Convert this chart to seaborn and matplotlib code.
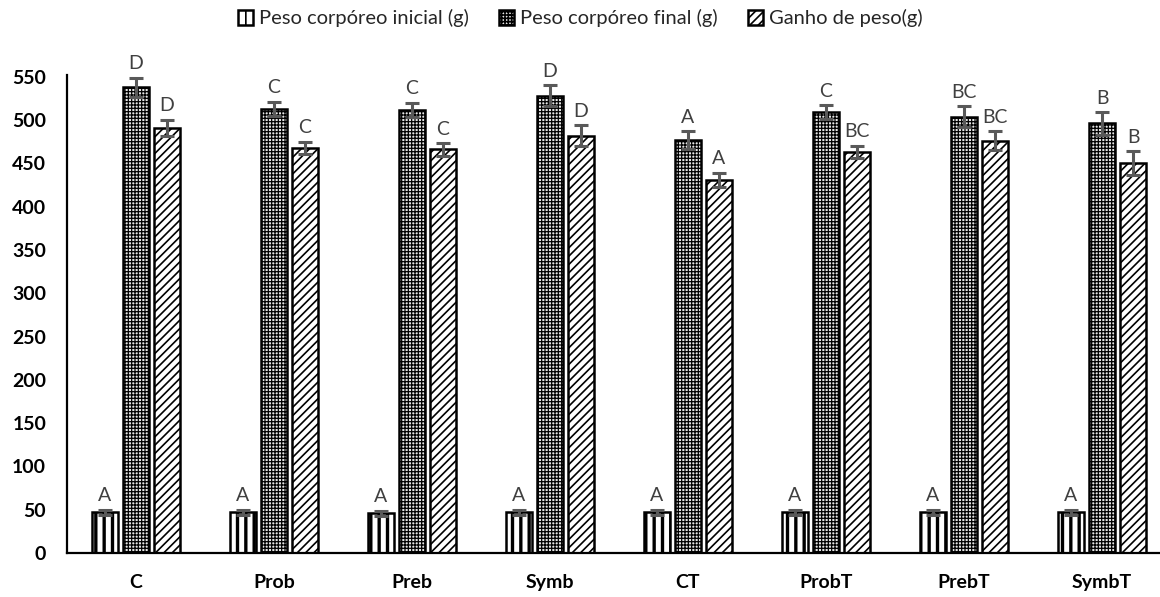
import matplotlib
matplotlib.use("Agg")
import matplotlib.pyplot as plt
import seaborn as sns
import pandas as pd
import numpy as np

# ========================
# Data
# ========================
grupos = ["C", "Prob", "Preb", "Symb", "CT", "ProbT", "PrebT", "SymbT"]
series = ["Peso corpóreo inicial (g)", "Peso corpóreo final (g)", "Ganho de peso(g)"]

peso_inicial = [47, 47, 46, 47, 47, 47, 47, 47]
peso_inicial_err = [3, 3, 3, 3, 3, 3, 3, 3]
peso_final = [538, 513, 512, 528, 477, 509, 504, 496]
peso_final_err = [11, 8, 8, 12, 10, 8, 12, 13]
ganho = [491, 468, 466, 482, 431, 463, 476, 450]
ganho_err = [9, 7, 7, 12, 8, 7, 11, 14]

letras_inicial = ["A", "A", "A", "A", "A", "A", "A", "A"]
letras_final = ["D", "C", "C", "D", "A", "C", "BC", "B"]
letras_ganho = ["D", "C", "C", "D", "A", "BC", "BC", "B"]

valores = [peso_inicial, peso_final, ganho]
erros = [peso_inicial_err, peso_final_err, ganho_err]
letras = [letras_inicial, letras_final, letras_ganho]

df = pd.DataFrame({
    "grupo": grupos * 3,
    "serie": np.repeat(series, len(grupos)),
    "valor": peso_inicial + peso_final + ganho,
})

# ========================
# Style
# ========================
sns.set_style("white")
plt.rcParams["font.family"] = ["Lato", "DejaVu Sans"]
plt.rcParams["hatch.linewidth"] = 1.2

fig = plt.figure(figsize=(11.6, 5.97), dpi=100)
ax = fig.add_axes([67 / 1160, 44 / 597, 1104 / 1160, 478 / 597])

sns.barplot(data=df, x="grupo", y="valor", hue="serie", order=grupos,
            hue_order=series, width=0.675, gap=0.165, palette=["white"] * 3,
            edgecolor="black", linewidth=1.8, ax=ax, errorbar=None, legend=False)

bar_containers = list(ax.containers)
hatches = ["||", "+++++", "////"]
hatch_lw = [2.4, 0.9, 1.2]
faces = ["white", "#e6e6e6", "white"]
cinza = "#595959"
for i, cont in enumerate(bar_containers):
    vals, errs, labs = valores[i], erros[i], letras[i]
    xs = []
    for p in cont.patches:
        p.set_hatch(hatches[i])
        p.set_edgecolor("black")
        p.set_facecolor(faces[i])
        if hasattr(p, "set_hatch_linewidth"):
            p.set_hatch_linewidth(hatch_lw[i])
        xs.append(p.get_x() + p.get_width() / 2)
    ax.errorbar(xs, vals, yerr=errs, fmt="none", ecolor=cinza, elinewidth=2.2,
                capsize=5, capthick=2.2, zorder=5)
    for x, v, e, lab in zip(xs, vals, errs, labs):
        ax.annotate(lab, (x, v + e), xytext=(0, 4), textcoords="offset points",
                    ha="center", va="bottom", fontsize=14, color="#404040")

ax.set_ylim(0, 552)
ax.set_xlim(-0.5, 7.5)
ax.set_yticks(range(0, 551, 50))
ax.set_xlabel("")
ax.set_ylabel("")
ax.tick_params(axis="both", length=0, labelsize=14, colors="black")
ax.tick_params(axis="y", pad=15)
ax.tick_params(axis="x", pad=15)
for lab in ax.get_xticklabels() + ax.get_yticklabels():
    lab.set_fontweight("bold")

sns.despine(ax=ax)
for s in ["left", "bottom"]:
    ax.spines[s].set_color("black")
    ax.spines[s].set_linewidth(1.6)

handles = [c.patches[0] for c in bar_containers]
leg = fig.legend(handles, series, loc="upper center", bbox_to_anchor=(0.5, 1.015),
                 ncol=3, frameon=False, fontsize=14.5, handlelength=0.75,
                 handleheight=0.75, handletextpad=0.3, columnspacing=1.5)
for t in leg.get_texts():
    t.set_color("#262626")

plt.savefig("out.png", dpi=100)
plt.close()
